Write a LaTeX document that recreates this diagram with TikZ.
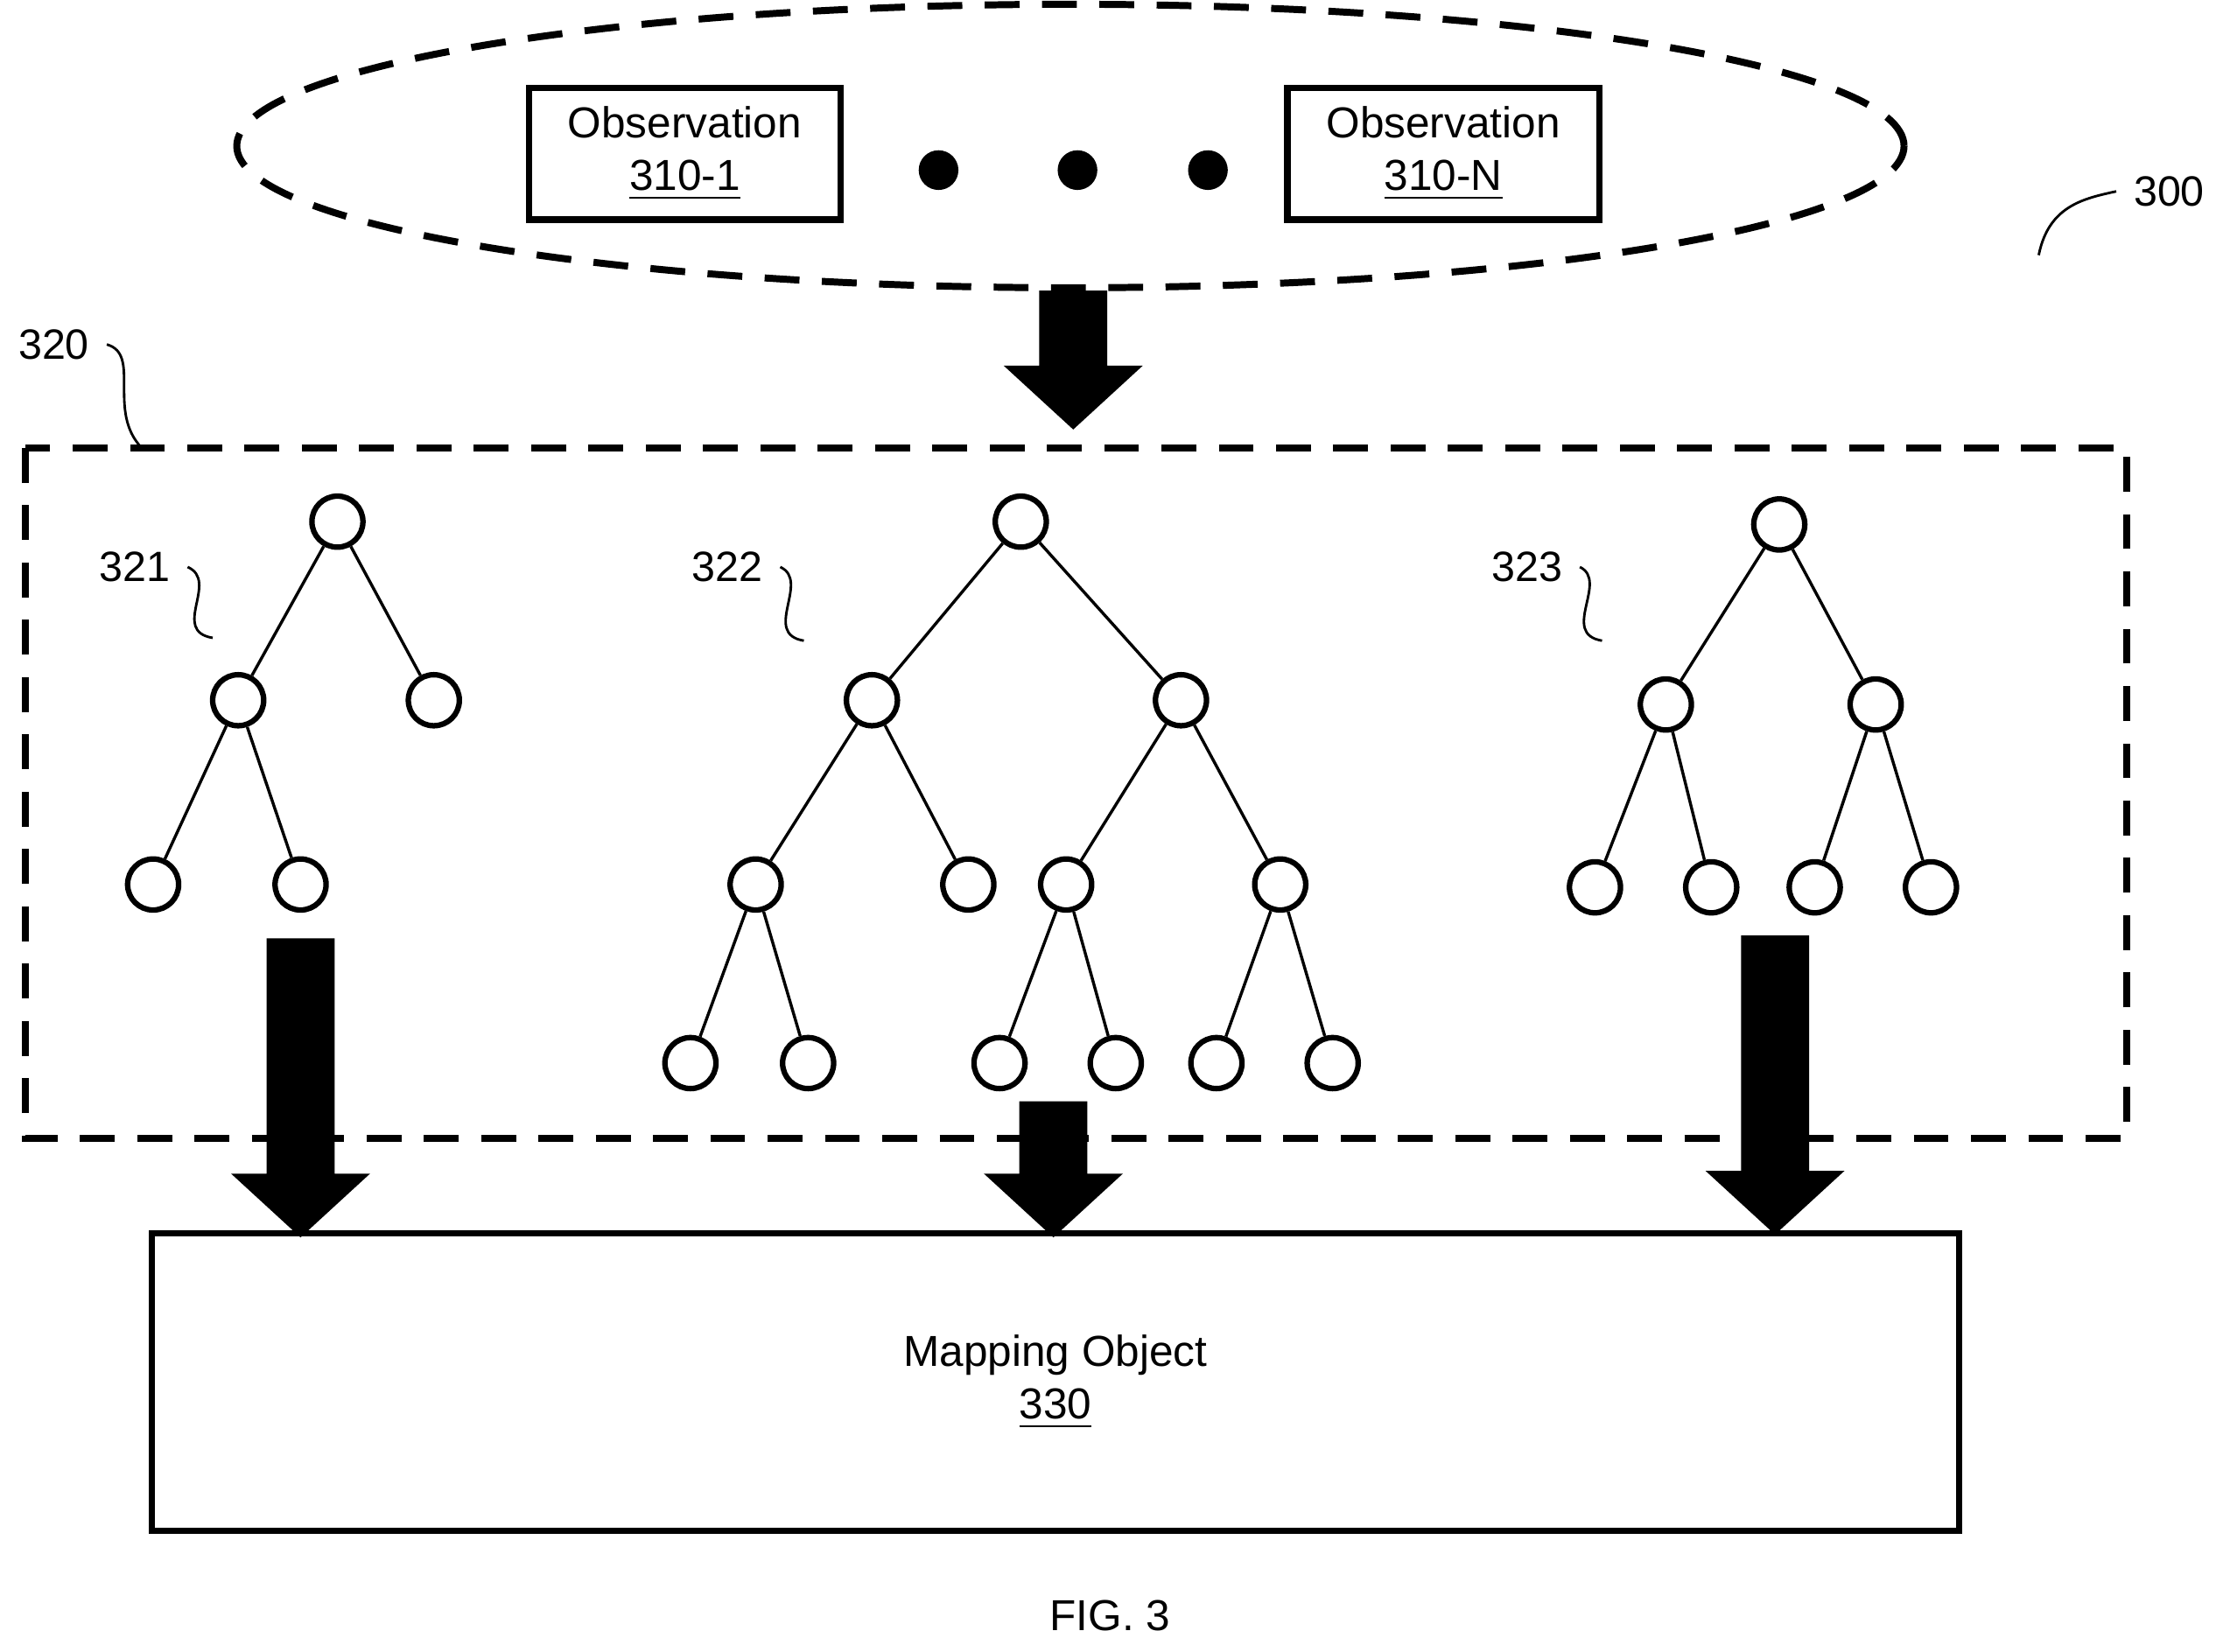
\documentclass[tikz,border=0pt]{standalone}
\usepackage{fontspec}
\setmainfont{Liberation Sans}
\usetikzlibrary{calc}

\tikzset{
	obsbox/.style={draw, line width=1.3pt, minimum width=2.2cm, minimum height=0.93cm, align=center, font=\fontsize{8.7}{10.5}\selectfont},
	vtx/.style={circle, draw, line width=1.1pt, fill=white, minimum size=0.36cm, inner sep=0pt},
	edge/.style={line width=0.6pt},
	refnum/.style={font=\fontsize{8.5}{10}\selectfont},
	squig/.style={line width=0.5pt},
	dashedline/.style={line width=1.4pt, dash pattern=on 7pt off 4.5pt}
}

% fat arrow: x centre, top of shaft, base of head, tip
\newcommand{\fatarrow}[4]{
	\fill (#1-0.24,#2) -- (#1+0.24,#2) -- (#1+0.24,#3) -- (#1+0.49,#3)
		-- (#1,#4) -- (#1-0.49,#3) -- (#1-0.24,#3) -- cycle;
}

\begin{document}
\begin{tikzpicture}
	\useasboundingbox (0,0) rectangle (15.68,-11.65);

	% Observations.
	\draw[dashedline] (7.55,-1.03) ellipse (5.88 and 1.0);
	\node[obsbox] (obs1) at (4.83,-1.085) {Observation\\\underline{310-1}};
	\node[obsbox] (obsN) at (10.18,-1.085) {Observation\\\underline{310-N}};
	\foreach \x in {6.62,7.60,8.52} {
		\fill (\x,-1.2) circle (0.14);
	}
	\node[refnum] (l300) at (15.30,-1.35) {300};
	\draw[squig] (14.38,-1.80) .. controls (14.45,-1.45) and (14.70,-1.40) .. (l300.west);

	\fatarrow{7.57}{-2.05}{-2.58}{-3.03}

	% Forest.
	\draw[dashedline] (0.18,-3.16) rectangle (15.00,-8.03);
	\node[refnum] (l320) at (0.38,-2.43) {320};
	\draw[squig] (l320.east) .. controls (1.00,-2.50) and (0.75,-2.90) .. (1.00,-3.16);

	% Tree 321.
	\node[vtx] (a) at (2.38,-3.68) {};
	\node[vtx] (a1) at (1.68,-4.94) {};
	\node[vtx] (a2) at (3.06,-4.94) {};
	\node[vtx] (a11) at (1.08,-6.24) {};
	\node[vtx] (a12) at (2.12,-6.24) {};
	\draw[edge] (a) -- (a1) (a) -- (a2) (a1) -- (a11) (a1) -- (a12);
	\node[refnum] (l321) at (0.95,-4.00) {321};
	\draw[squig] (l321.east) .. controls (1.55,-4.10) and (1.20,-4.45) .. (1.50,-4.50);

	% Tree 322.
	\node[vtx] (b) at (7.20,-3.68) {};
	\node[vtx] (b1) at (6.15,-4.94) {};
	\node[vtx] (b2) at (8.33,-4.94) {};
	\node[vtx] (b11) at (5.33,-6.24) {};
	\node[vtx] (b12) at (6.83,-6.24) {};
	\node[vtx] (b21) at (7.52,-6.24) {};
	\node[vtx] (b22) at (9.03,-6.24) {};
	\node[vtx] (b111) at (4.87,-7.50) {};
	\node[vtx] (b112) at (5.70,-7.50) {};
	\node[vtx] (b211) at (7.05,-7.50) {};
	\node[vtx] (b212) at (7.87,-7.50) {};
	\node[vtx] (b221) at (8.58,-7.50) {};
	\node[vtx] (b222) at (9.40,-7.50) {};
	\draw[edge] (b) -- (b1) (b) -- (b2) (b1) -- (b11) (b1) -- (b12)
		(b2) -- (b21) (b2) -- (b22) (b11) -- (b111) (b11) -- (b112)
		(b21) -- (b211) (b21) -- (b212) (b22) -- (b221) (b22) -- (b222);
	\node[refnum] (l322) at (5.13,-4.00) {322};
	\draw[squig] (l322.east) .. controls (5.72,-4.10) and (5.37,-4.47) .. (5.67,-4.52);

	% Tree 323.
	\node[vtx] (c) at (12.55,-3.70) {};
	\node[vtx] (c1) at (11.75,-4.97) {};
	\node[vtx] (c2) at (13.23,-4.97) {};
	\node[vtx] (c11) at (11.25,-6.26) {};
	\node[vtx] (c12) at (12.07,-6.26) {};
	\node[vtx] (c21) at (12.80,-6.26) {};
	\node[vtx] (c22) at (13.62,-6.26) {};
	\draw[edge] (c) -- (c1) (c) -- (c2) (c1) -- (c11) (c1) -- (c12)
		(c2) -- (c21) (c2) -- (c22);
	\node[refnum] (l323) at (10.77,-4.00) {323};
	\draw[squig] (l323.east) .. controls (11.35,-4.10) and (11.00,-4.47) .. (11.30,-4.52);

	% Arrows into the mapping object.
	\fatarrow{2.12}{-6.62}{-8.28}{-8.73}
	\fatarrow{7.43}{-7.77}{-8.28}{-8.73}
	\fatarrow{12.52}{-6.60}{-8.26}{-8.71}

	\node[draw, line width=1.3pt, minimum width=12.75cm, minimum height=2.1cm, align=center,
		font=\fontsize{8.7}{10.5}\selectfont] (map) at (7.445,-9.75) {Mapping Object\\\underline{330}};

	\node[font=\fontsize{8.7}{10}\selectfont] (fig) at (7.83,-11.40) {FIG. 3};
\end{tikzpicture}
\end{document}
